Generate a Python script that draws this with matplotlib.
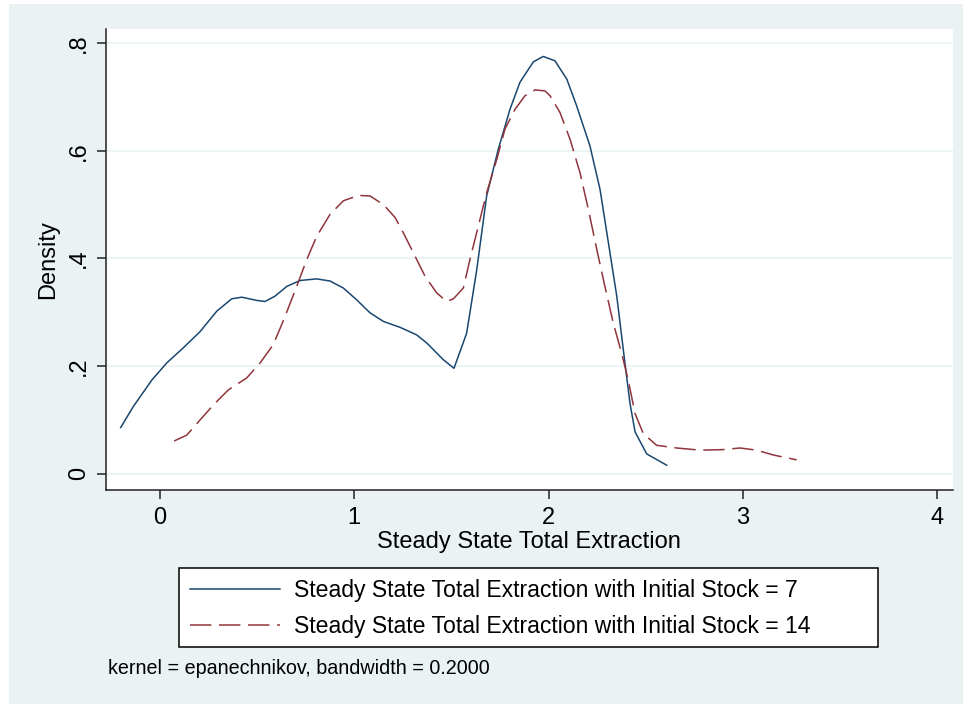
import matplotlib
matplotlib.use("Agg")
import matplotlib.pyplot as plt
from matplotlib.patches import Rectangle

plt.rcParams['font.family'] = ['Liberation Sans', 'DejaVu Sans']

# Series 1: Initial Stock = 7
x7 = [-0.2, -0.135, -0.04, 0.037, 0.122, 0.208, 0.294, 0.371, 0.423, 0.5, 0.542, 0.594,
      0.654, 0.722, 0.808, 0.877, 0.945, 1.014, 1.082, 1.151, 1.237, 1.322, 1.374, 1.459,
      1.514, 1.579, 1.631, 1.682, 1.742, 1.802, 1.853, 1.922, 1.973, 2.033, 2.094, 2.145,
      2.213, 2.265, 2.308, 2.351, 2.393, 2.419, 2.445, 2.505, 2.608]
y7 = [0.086, 0.125, 0.174, 0.206, 0.234, 0.264, 0.302, 0.325, 0.328, 0.322, 0.320, 0.330,
      0.348, 0.359, 0.362, 0.358, 0.345, 0.323, 0.299, 0.283, 0.272, 0.258, 0.243, 0.212,
      0.196, 0.261, 0.379, 0.516, 0.603, 0.677, 0.727, 0.765, 0.775, 0.767, 0.733, 0.683,
      0.609, 0.528, 0.429, 0.330, 0.206, 0.131, 0.078, 0.037, 0.016]

# Series 2: Initial Stock = 14
x14 = [0.075, 0.140, 0.208, 0.277, 0.354, 0.448, 0.517, 0.585, 0.645, 0.705, 0.757, 0.808,
       0.877, 0.945, 1.022, 1.082, 1.151, 1.211, 1.253, 1.314, 1.365, 1.425, 1.477, 1.511,
       1.562, 1.596, 1.639, 1.682, 1.734, 1.776, 1.828, 1.879, 1.931, 1.982, 2.008, 2.059,
       2.111, 2.162, 2.205, 2.248, 2.290, 2.333, 2.376, 2.410, 2.445, 2.487, 2.556, 2.659,
       2.779, 2.899, 2.985, 3.070, 3.156, 3.276]
y14 = [0.061, 0.072, 0.100, 0.128, 0.156, 0.178, 0.206, 0.240, 0.292, 0.348, 0.398, 0.441,
       0.482, 0.507, 0.517, 0.516, 0.500, 0.476, 0.448, 0.404, 0.367, 0.336, 0.320, 0.325,
       0.345, 0.398, 0.460, 0.522, 0.584, 0.640, 0.677, 0.702, 0.713, 0.711, 0.702, 0.671,
       0.621, 0.559, 0.491, 0.417, 0.348, 0.280, 0.224, 0.174, 0.112, 0.075, 0.053, 0.048,
       0.044, 0.045, 0.048, 0.044, 0.035, 0.026]

labels = ["Steady State Total Extraction with Initial Stock = 7",
          "Steady State Total Extraction with Initial Stock = 14"]
xticks = [0, 1, 2, 3, 4]
yticks = [0, 0.2, 0.4, 0.6, 0.8]
yticklabels = ["0", ".2", ".4", ".6", ".8"]

W, H = 966, 704
BG = "#eaf2f3"
fig = plt.figure(figsize=(W / 100, H / 100), dpi=100, facecolor="white")
fig.patches.append(Rectangle((9 / W, 0), (963 - 9) / W, 1 - 4 / H,
                             transform=fig.transFigure, facecolor=BG,
                             edgecolor="none", zorder=-10))

ax = fig.add_axes([105.7 / W, 1 - 490 / H, (953 - 105.7) / W, (490 - 29) / H])
ax.set_facecolor("white")
ax.plot(x7, y7, color="#1a476f", lw=1.1, label=labels[0])
ax.plot(x14, y14, color="#90353b", lw=1.1, dashes=(14, 5), label=labels[1])

ax.set_xlim(-0.277, 4.08)
ax.set_ylim(-0.030, 0.826)
ax.set_xticks(xticks)
ax.set_yticks(yticks)
ax.set_yticklabels(yticklabels, rotation=90, va="center")
ax.tick_params(axis="both", direction="out", length=6.5, width=1.1, color="#222222",
               labelsize=17)
ax.tick_params(axis="x", pad=6)
ax.tick_params(axis="y", pad=5)
for s in ["top", "right"]:
    ax.spines[s].set_visible(False)
for s in ["left", "bottom"]:
    ax.spines[s].set_linewidth(1.1)
    ax.spines[s].set_color("#222222")
ax.grid(axis="y", color=BG, lw=1.2)
ax.set_axisbelow(True)

ax.set_xlabel("Steady State Total Extraction", fontsize=17, labelpad=1)
ax.set_ylabel("Density", fontsize=17, labelpad=6)

# legend frame drawn as its own box (Stata-style wide box)
fig.patches.append(Rectangle((179 / W, 1 - 647 / H), (878 - 179) / W, (647 - 568) / H,
                             transform=fig.transFigure, facecolor="white",
                             edgecolor="black", lw=1.1, zorder=1))
leg = fig.legend(loc="upper left", bbox_to_anchor=(179 / W, 1 - 568 / H),
                 borderaxespad=0, fontsize=16.6, frameon=False,
                 handlelength=3.9, handletextpad=0.62,
                 borderpad=0.48, labelspacing=0.58)
leg.set_zorder(2)

fig.text(108 / W, 1 - 668 / H, "kernel = epanechnikov, bandwidth = 0.2000",
         fontsize=14.2, va="center", ha="left")

fig.savefig("out.png", dpi=100, facecolor=fig.get_facecolor())
